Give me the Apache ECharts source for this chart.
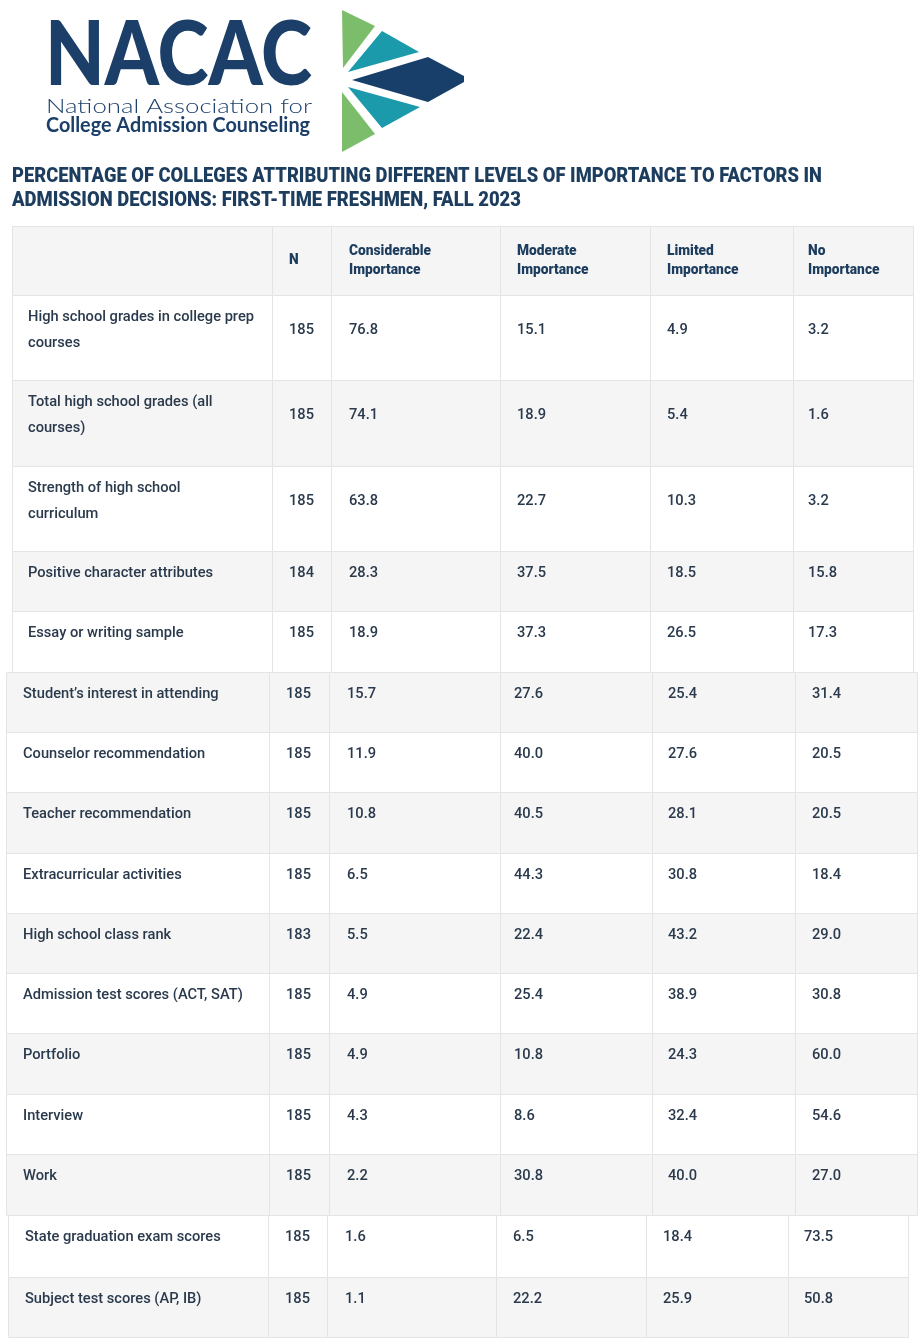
<!DOCTYPE html>
<html>
<head>
<meta charset="utf-8">
<script src="https://cdn.jsdelivr.net/npm/echarts@6/dist/echarts.min.js"></script>
<style>
  html, body { margin: 0; padding: 0; background: #fff; }
  #chart { width: 922px; height: 1341px; }
</style>
</head>
<body>
<div id="chart"></div>
<script>
// table content
const headers = ['', 'N', 'Considerable\nImportance', 'Moderate\nImportance', 'Limited\nImportance', 'No\nImportance'];
const factors = [
  'High school grades in college prep\ncourses',
  'Total high school grades (all\ncourses)',
  'Strength of high school\ncurriculum',
  'Positive character attributes',
  'Essay or writing sample',
  'Student’s interest in attending',
  'Counselor recommendation',
  'Teacher recommendation',
  'Extracurricular activities',
  'High school class rank',
  'Admission test scores (ACT, SAT)',
  'Portfolio',
  'Interview',
  'Work',
  'State graduation exam scores',
  'Subject test scores (AP, IB)'
];
const nCounts = [185, 185, 185, 184, 185, 185, 185, 185, 185, 183, 185, 185, 185, 185, 185, 185];
const considerable = [76.8, 74.1, 63.8, 28.3, 18.9, 15.7, 11.9, 10.8, 6.5, 5.5, 4.9, 4.9, 4.3, 2.2, 1.6, 1.1];
const moderate = [15.1, 18.9, 22.7, 37.5, 37.3, 27.6, 40.0, 40.5, 44.3, 22.4, 25.4, 10.8, 8.6, 30.8, 6.5, 22.2];
const limited = [4.9, 5.4, 10.3, 18.5, 26.5, 25.4, 27.6, 28.1, 30.8, 43.2, 38.9, 24.3, 32.4, 40.0, 18.4, 25.9];
const noImportance = [3.2, 1.6, 3.2, 15.8, 17.3, 31.4, 20.5, 20.5, 18.4, 29.0, 30.8, 60.0, 54.6, 27.0, 73.5, 50.8];

const titleLines = [
  'PERCENTAGE OF COLLEGES ATTRIBUTING DIFFERENT LEVELS OF IMPORTANCE TO FACTORS IN',
  'ADMISSION DECISIONS: FIRST-TIME FRESHMEN, FALL 2023'
];

// layout: the picture is three pasted pieces, each with its own column edges
const segments = [
  { from: 0, to: 5, edges: [12, 272, 331, 500, 650, 793, 913], textX: [28, 289, 349, 517, 667, 808] },
  { from: 6, to: 14, edges: [6, 269, 329, 500, 652, 795, 917], textX: [23, 286, 347, 514, 668, 812] },
  { from: 15, to: 16, edges: [8, 268, 327, 496, 646, 788, 908], textX: [25, 285, 345, 513, 663, 804] }
];
const rowEdges = [226, 295, 380, 466, 551, 611, 672, 732, 792, 853, 913, 973, 1033, 1094, 1154, 1215, 1277, 1337];

const NAVY = '#1d3d5e';
const BODY = '#2a3a4c';
const FONT = 'Roboto, "Noto Sans", sans-serif';

// squeeze text horizontally so it takes the width seen in the picture
const ctx = document.createElement('canvas').getContext('2d');
function fitScale(text, weight, size, family, target) {
  ctx.font = weight + ' ' + size + 'px ' + family;
  return target / ctx.measureText(text).width;
}
const labelScale = fitScale('High school grades in college prep', 500, 15, FONT, 226);
const numScale = fitScale('185', 500, 15, FONT, 25);
const headScale = fitScale('Considerable', 900, 14, FONT, 82);

function cellTexts(r) {
  if (r === 0) return headers;
  const i = r - 1;
  return [factors[i], String(nCounts[i]), considerable[i].toFixed(1), moderate[i].toFixed(1),
    limited[i].toFixed(1), noImportance[i].toFixed(1)];
}

function renderRow(params, api) {
  const r = api.value(0);
  const seg = segments.find(s => r >= s.from && r <= s.to);
  const top = Math.round(api.coord([0, rowEdges[r]])[1]);
  const bottom = Math.round(api.coord([0, rowEdges[r + 1]])[1]);
  const fill = r % 2 === 0 ? '#f5f5f5' : '#ffffff';
  const texts = cellTexts(r);
  const children = [];

  for (let c = 0; c < 6; c++) {
    const x0 = Math.round(api.coord([seg.edges[c], 0])[0]);
    const x1 = Math.round(api.coord([seg.edges[c + 1], 0])[0]);
    children.push({
      type: 'rect',
      shape: { x: x0 + 0.5, y: top + 0.5, width: x1 - x0, height: bottom - top },
      style: { fill: fill, stroke: '#e4e4e4', lineWidth: 1 }
    });
  }

  const lines = texts[0].split('\n').length;
  const cy = r === 0 ? (top + bottom) / 2 : top + 9 + lines * 13;
  for (let c = 0; c < 6; c++) {
    if (!texts[c]) continue;
    const tx = api.coord([seg.textX[c], 0])[0];
    const isHead = r === 0;
    children.push({
      type: 'text',
      x: tx,
      y: cy,
      scaleX: isHead ? headScale : (c === 0 ? labelScale : numScale),
      style: {
        text: texts[c],
        fill: isHead ? NAVY : BODY,
        fontFamily: FONT,
        fontSize: isHead ? 14 : 15,
        fontWeight: isHead ? 900 : 500,
        lineHeight: isHead ? 19 : 26,
        align: 'left',
        verticalAlign: 'middle'
      }
    });
  }
  return { type: 'group', children: children };
}

const rowIds = [];
for (let r = 0; r < rowEdges.length - 1; r++) rowIds.push([r]);

// logo
const logoShapes = [
  { color: '#7cbd6b', points: [[342, 10], [375, 26], [343, 68]] },
  { color: '#1a9aaa', points: [[382, 31], [419, 52], [348, 72]] },
  { color: '#173f69', points: [[352, 80], [428, 57], [464, 76], [464, 82], [428, 102]] },
  { color: '#1a9aaa', points: [[348, 87], [420, 107], [382, 128]] },
  { color: '#7cbd6b', points: [[342, 92], [375, 134], [342, 152]] }
];
const graphics = logoShapes.map(s => ({
  type: 'polygon',
  shape: { points: s.points },
  style: { fill: s.color }
}));

function fittedText(text, x, y, size, weight, family, width, color) {
  return {
    type: 'text',
    x: x,
    y: y,
    scaleX: fitScale(text, weight, size, family, width),
    style: {
      text: text, fill: color, fontSize: size, fontWeight: weight, fontFamily: family,
      align: 'left', verticalAlign: 'middle'
    }
  };
}
graphics.push(fittedText('NACAC', 45, 56, 90, 900, 'Lato, sans-serif', 267, '#1b3f69'));
graphics.push(fittedText('National Association for', 46, 107, 19, 300, 'Lato, sans-serif', 266, '#1b3f69'));
graphics.push(fittedText('College Admission Counseling', 46, 125, 21, 700, 'Lato, sans-serif', 264, '#1b3f69'));
graphics.push(fittedText(titleLines[0], 12, 177, 20, 900, FONT, 810, NAVY));
graphics.push(fittedText(titleLines[1], 12, 201, 20, 900, FONT, 509, NAVY));

const chart = echarts.init(document.getElementById('chart'));
chart.setOption({
  animation: false,
  backgroundColor: '#ffffff',
  grid: { left: 0, right: 0, top: 0, bottom: 0 },
  xAxis: { type: 'value', min: 0, max: 922, show: false },
  yAxis: { type: 'value', min: 0, max: 1341, inverse: true, show: false },
  graphic: graphics,
  series: [{
    type: 'custom',
    renderItem: renderRow,
    data: rowIds,
    clip: false
  }]
});
</script>
</body>
</html>
